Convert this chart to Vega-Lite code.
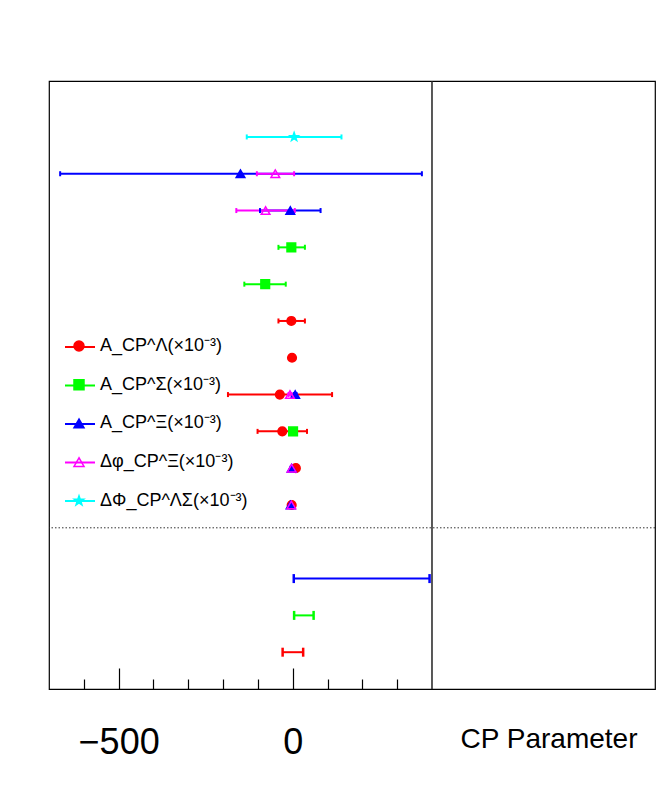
{
  "$schema": "https://vega.github.io/schema/vega-lite/v6.json",
  "width": 606,
  "height": 608,
  "autosize": {"type": "none"},
  "padding": {"left": 49, "top": 81, "right": 9, "bottom": 123},
  "background": "white",
  "config": {
    "font": "Liberation Sans",
    "view": {"stroke": "black", "strokeWidth": 1.2},
    "axis": {"grid": false},
    "legend": {"labelFont": "Liberation Sans", "labelFontSize": 18, "labelColor": "black", "labelLimit": 400, "padding": 0, "offset": 0, "symbolOpacity": 1}
  },
  "datasets": {
    "meas": [
      {"series": "Lambda", "row": 10, "value": -4, "lo": -41, "hi": 35},
      {"series": "Lambda", "row": 9, "value": -2, "lo": -4, "hi": 0},
      {"series": "Lambda", "row": 8, "value": -37, "lo": -186, "hi": 113},
      {"series": "Lambda", "row": 7, "value": -30, "lo": -101, "hi": 41},
      {"series": "Lambda", "row": 6, "value": 9, "lo": 6, "hi": 12},
      {"series": "Lambda", "row": 5, "value": -3, "lo": -5, "hi": -1},
      {"series": "Sigma", "row": 12, "value": -4, "lo": -41, "hi": 35},
      {"series": "Sigma", "row": 11, "value": -79, "lo": -139, "hi": -20},
      {"series": "Sigma", "row": 7, "value": 1, "lo": -2, "hi": 4},
      {"series": "Xi", "row": 14, "value": -150, "lo": -668, "hi": 371},
      {"series": "Xi", "row": 13, "value": -7, "lo": -94, "hi": 80},
      {"series": "Xi", "row": 8, "value": 7, "lo": 3, "hi": 11},
      {"series": "Xi", "row": 6, "value": -3, "lo": -6, "hi": 0},
      {"series": "Xi", "row": 5, "value": -6, "lo": -9, "hi": -3},
      {"series": "dphiXi", "row": 14, "value": -50, "lo": -103, "hi": 4},
      {"series": "dphiXi", "row": 13, "value": -78, "lo": -162, "hi": 6},
      {"series": "dphiXi", "row": 8, "value": -8, "lo": -12, "hi": -4},
      {"series": "dphiXi", "row": 6, "value": -3, "lo": -6, "hi": 0},
      {"series": "dphiXi", "row": 5, "value": -4, "lo": -7, "hi": -1},
      {"series": "dPhiLS", "row": 15, "value": 4, "lo": -132, "hi": 140}
    ],
    "ranges": [
      {"series": "Xi", "row": 3, "lo": 3, "hi": 393},
      {"series": "Sigma", "row": 2, "lo": 4, "hi": 60},
      {"series": "Lambda", "row": 1, "lo": -29, "hi": 30}
    ],
    "refs": [
      {"xline": 400, "yline": 4.38}
    ]
  },
  "resolve": {"axis": {"x": "independent", "y": "shared"}},
  "layer": [
    {
      "data": {"name": "refs"},
      "mark": {"type": "rule", "color": "#222222", "strokeWidth": 1.5},
      "encoding": {
        "x": {"field": "xline", "type": "quantitative", "scale": {"domain": [-700, 1040.5], "nice": false, "zero": false}, "axis": null}
      }
    },
    {
      "data": {"name": "refs"},
      "mark": {"type": "rule", "color": "#333333", "strokeWidth": 1, "strokeDash": [1.5, 2]},
      "encoding": {
        "y": {"field": "yline", "type": "quantitative", "scale": {"domain": [0, 16.52], "nice": false, "zero": false}, "axis": null}
      }
    },
    {
      "data": {"name": "meas"},
      "mark": {"type": "rule", "strokeWidth": 2},
      "encoding": {
        "x": {"field": "lo", "type": "quantitative", "scale": {"domain": [-700, 1040.5], "nice": false, "zero": false},
              "axis": {"orient": "bottom", "values": [-500, 0], "tickSize": -21, "tickColor": "black", "tickWidth": 1.2, "labels": false, "domain": false, "title": null, "grid": false}},
        "x2": {"field": "hi"},
        "y": {"field": "row", "type": "quantitative", "scale": {"domain": [0, 16.52], "nice": false, "zero": false}, "axis": null},
        "color": {"field": "series", "type": "nominal", "sort": ["Lambda", "Sigma", "Xi", "dphiXi", "dPhiLS"],
                  "scale": {"range": ["#ff0000", "#00ff00", "#0000ff", "#ff00ff", "#00ffff"]},
                  "legend": {"title": null, "orient": "none", "legendX": 15, "legendY": 250, "symbolType": "stroke", "symbolSize": 900, "symbolStrokeWidth": 2,
                             "labelOffset": 0, "rowPadding": 13.5, "labelExpr": "''"}}
      }
    },
    {
      "data": {"name": "meas"},
      "mark": {"type": "tick", "orient": "vertical", "size": 5, "thickness": 2, "opacity": 1},
      "encoding": {
        "x": {"field": "lo", "type": "quantitative", "axis": null},
        "y": {"field": "row", "type": "quantitative", "axis": null},
        "color": {"field": "series", "type": "nominal", "sort": ["Lambda", "Sigma", "Xi", "dphiXi", "dPhiLS"]}
      }
    },
    {
      "data": {"name": "meas"},
      "mark": {"type": "tick", "orient": "vertical", "size": 5, "thickness": 2, "opacity": 1},
      "encoding": {
        "x": {"field": "hi", "type": "quantitative",
              "axis": {"orient": "bottom", "values": [-600, -400, -300, -200, -100, 100, 200, 300], "tickSize": -10, "tickColor": "black", "tickWidth": 1.2, "labels": false, "domain": false, "title": null, "grid": false}},
        "y": {"field": "row", "type": "quantitative", "axis": null},
        "color": {"field": "series", "type": "nominal", "sort": ["Lambda", "Sigma", "Xi", "dphiXi", "dPhiLS"]}
      }
    },
    {
      "data": {"name": "ranges"},
      "mark": {"type": "rule", "strokeWidth": 2},
      "encoding": {
        "x": {"field": "lo", "type": "quantitative", "axis": null},
        "x2": {"field": "hi"},
        "y": {"field": "row", "type": "quantitative", "axis": null},
        "color": {"field": "series", "type": "nominal", "sort": ["Lambda", "Sigma", "Xi", "dphiXi", "dPhiLS"]}
      }
    },
    {
      "data": {"name": "ranges"},
      "mark": {"type": "tick", "orient": "vertical", "size": 9, "thickness": 2.5, "opacity": 1},
      "encoding": {
        "x": {"field": "lo", "type": "quantitative", "axis": null},
        "y": {"field": "row", "type": "quantitative", "axis": null},
        "color": {"field": "series", "type": "nominal", "sort": ["Lambda", "Sigma", "Xi", "dphiXi", "dPhiLS"]}
      }
    },
    {
      "data": {"name": "ranges"},
      "mark": {"type": "tick", "orient": "vertical", "size": 9, "thickness": 2.5, "opacity": 1},
      "encoding": {
        "x": {"field": "hi", "type": "quantitative", "axis": null},
        "y": {"field": "row", "type": "quantitative", "axis": null},
        "color": {"field": "series", "type": "nominal", "sort": ["Lambda", "Sigma", "Xi", "dphiXi", "dPhiLS"]}
      }
    },
    {
      "data": {"name": "meas"},
      "mark": {"type": "point", "size": 75, "strokeWidth": 1.5, "opacity": 1},
      "encoding": {
        "x": {"field": "value", "type": "quantitative",
              "axis": {"orient": "bottom", "values": [-500, 0], "ticks": false, "domain": false, "grid": false,
                       "labelFontSize": 36, "labelFont": "Liberation Sans", "labelColor": "black", "labelBaseline": "alphabetic", "labelPadding": 64, "labelFlush": false, "labelOverlap": false,
                       "title": "CP Parameter", "titleFont": "Liberation Sans", "titleFontSize": 28, "titleFontWeight": "normal", "titleColor": "black",
                       "titleX": 588, "titleY": 58, "titleAlign": "right", "titleBaseline": "alphabetic", "titleAnchor": "end"}},
        "y": {"field": "row", "type": "quantitative", "axis": null},
        "fill": {"field": "series", "type": "nominal", "scale": {"domain": ["Lambda", "Sigma", "Xi", "dphiXi", "dPhiLS"], "range": ["#ff0000", "#00ff00", "#0000ff", "transparent", "#00ffff"]},
                 "legend": {"title": null, "orient": "none", "legendX": 21, "legendY": 256, "symbolSize": 100, "symbolStrokeWidth": 1.5,
                            "labelOffset": 12, "rowPadding": 20.7,
                            "labelExpr": "datum.value === 'Lambda' ? 'A_CP^Λ(×10⁻³)' : datum.value === 'Sigma' ? 'A_CP^Σ(×10⁻³)' : datum.value === 'Xi' ? 'A_CP^Ξ(×10⁻³)' : datum.value === 'dphiXi' ? 'Δφ_CP^Ξ(×10⁻³)' : 'ΔΦ_CP^ΛΣ(×10⁻³)'"}},
        "stroke": {"field": "series", "type": "nominal", "scale": {"domain": ["Lambda", "Sigma", "Xi", "dphiXi", "dPhiLS"], "range": ["#ff0000", "#00ff00", "#0000ff", "#ff00ff", "#00ffff"]}},
        "shape": {"field": "series", "type": "nominal",
                  "scale": {"domain": ["Lambda", "Sigma", "Xi", "dphiXi", "dPhiLS"], "range": ["circle", "square", "triangle-up", "triangle-up", "M0,-1L0.235,-0.324L0.951,-0.309L0.38,0.124L0.588,0.809L0,0.4L-0.588,0.809L-0.38,0.124L-0.951,-0.309L-0.235,-0.324Z"]}}
      }
    }
  ]
}
